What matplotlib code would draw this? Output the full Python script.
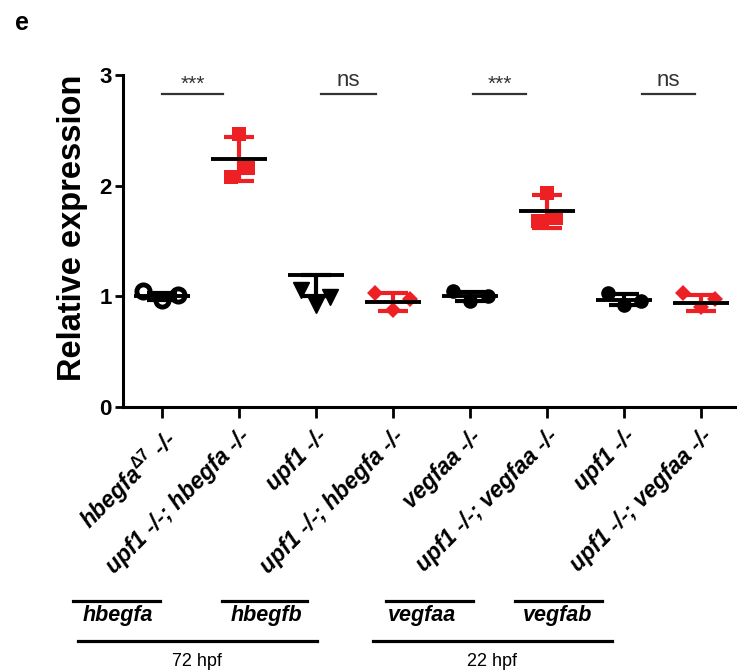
import matplotlib
matplotlib.use("Agg")
import matplotlib.pyplot as plt
from matplotlib.lines import Line2D
import numpy as np

plt.rcParams['font.family'] = ['Liberation Sans', 'DejaVu Sans']
plt.rcParams['mathtext.fontset'] = 'custom'
plt.rcParams['mathtext.rm'] = 'Liberation Sans:bold'
plt.rcParams['mathtext.it'] = 'Liberation Sans:bold:italic'

# ---------------- data ----------------
tick_labels = [
    r"hbegfa$^{\mathrm{\Delta 7}}$ -/-",
    "upf1 -/-; hbegfa -/-",
    "upf1 -/-",
    "upf1 -/-; hbegfa -/-",
    "vegfaa -/-",
    "upf1 -/-; vegfaa -/-",
    "upf1 -/-",
    "upf1 -/-; vegfaa -/-",
]
g0_vals = [1.05, 0.97, 1.01]
g1_vals = [2.47, 2.08, 2.16]
g2_vals = [1.06, 0.99, 0.92]
g3_vals = [1.03, 0.98, 0.88]
g4_vals = [1.05, 0.96, 1.00]
g5_vals = [1.93, 1.68, 1.71]
g6_vals = [1.03, 0.92, 0.96]
g7_vals = [1.03, 0.90, 0.98]
group_vals = [g0_vals, g1_vals, g2_vals, g3_vals, g4_vals, g5_vals, g6_vals, g7_vals]

centre_vals = [1.00, 2.24, 1.19, 0.95, 1.00, 1.77, 0.97, 0.94]
err_low = [0.03, 0.20, 0.19, 0.08, 0.04, 0.15, 0.05, 0.07]
err_high = [0.03, 0.20, 0.00, 0.08, 0.04, 0.15, 0.05, 0.07]

sig_pairs = [(0.0, 0.79), (2.07, 2.78), (4.04, 4.73), (6.23, 6.93)]
sig_labels = ["***", "ns", "***", "ns"]
sig_level = 2.83

# ---------------- style ----------------
RED = '#ED2024'
jitter = [
    [-0.25, 0.0, 0.21],
    [0.0, -0.11, 0.12],
    [-0.20, 0.18, 0.0],
    [-0.23, 0.22, 0.0],
    [-0.22, 0.0, 0.23],
    [0.0, -0.11, 0.12],
    [-0.21, 0.0, 0.22],
    [-0.23, 0.0, 0.18],
]
styles = [
    dict(marker='o', color='black', ms=9.5, mfc='white', mew=3.5),
    dict(marker='s', color=RED, ms=10, mfc=RED, mew=0),
    dict(marker='v', color='black', ms=12, mfc='black', mew=1),
    dict(marker='D', color=RED, ms=8.5, mfc=RED, mew=0),
    dict(marker='o', color='black', ms=9.5, mfc='black', mew=1),
    dict(marker='s', color=RED, ms=10, mfc=RED, mew=0),
    dict(marker='o', color='black', ms=9.5, mfc='black', mew=1),
    dict(marker='D', color=RED, ms=8.5, mfc=RED, mew=0),
]

fig = plt.figure(figsize=(7.37, 6.71), dpi=100)
ax = fig.add_axes([0.167, 0.3934, 0.833, 0.4948])

for i, vals in enumerate(group_vals):
    st = styles[i]
    xs = [i + j for j in jitter[i]]
    ax.plot(xs, vals, linestyle='none', marker=st['marker'], ms=st['ms'],
            mfc=st['mfc'], mec=st['color'], mew=st['mew'], zorder=3,
            clip_on=False)
    ax.errorbar([i], [centre_vals[i]], yerr=[[err_low[i]], [err_high[i]]],
                fmt='none', ecolor=st['color'], elinewidth=3, capsize=11,
                capthick=3, zorder=4)
    ax.hlines(centre_vals[i], i - 0.36, i + 0.36, color='black', lw=2.8,
              zorder=5)

for (a, b), lab in zip(sig_pairs, sig_labels):
    ax.plot([a, b], [sig_level, sig_level], color='#333333', lw=1.6,
            clip_on=False)
    if lab == "ns":
        ax.text((a + b) / 2, sig_level + 0.03, lab, ha='center', va='bottom',
                fontsize=16, color='#333333')
    else:
        ax.text((a + b) / 2, sig_level + 0.0, lab, ha='center', va='bottom',
                fontsize=15, color='#333333')

ax.set_xlim(-0.506, 7.47)
ax.set_ylim(0, 3)
ax.set_yticks([0, 1, 2, 3])
ax.set_yticklabels(['0', '1', '2', '3'], fontsize=16, fontweight='bold')
ax.set_xticks(range(len(tick_labels)))
ax.set_xticklabels(tick_labels, rotation=45, ha='right',
                   rotation_mode='anchor', fontsize=16.5, fontweight='bold',
                   fontstyle='italic')
ax.tick_params(axis='y', length=6, width=2, pad=2)
ax.tick_params(axis='x', length=8, width=2, pad=5)
for s in ['top', 'right']:
    ax.spines[s].set_visible(False)
for s in ['left', 'bottom']:
    ax.spines[s].set_linewidth(2.2)

fig.text(0.098, 0.66, "Relative expression", rotation=90, ha='center',
         va='center', fontsize=23.5, fontweight='bold')
fig.text(0.02, 0.966, "e", ha='left', va='center', fontsize=18,
         fontweight='bold')

# bottom annotations
def hline_fig(x0, x1, y):
    fig.add_artist(Line2D([x0 / 737, x1 / 737], [1 - y / 671, 1 - y / 671],
                          color='black', lw=2.3))

hline_fig(73, 160, 601)
hline_fig(222, 307, 601)
hline_fig(386, 473, 601)
hline_fig(515, 602, 601)
hline_fig(78, 317, 641)
hline_fig(373, 612, 641)

for name, xl in [("hbegfa", 83), ("hbegfb", 231), ("vegfaa", 388), ("vegfab", 523)]:
    fig.text(xl / 737, 1 - 615 / 671, name, ha='left', va='center',
             fontsize=15.5, fontweight='bold', fontstyle='italic')
fig.text(197 / 737, 1 - 661 / 671, "72 hpf", ha='center', va='center',
         fontsize=13)
fig.text(492 / 737, 1 - 661 / 671, "22 hpf", ha='center', va='center',
         fontsize=13)

fig.savefig("out.png", dpi=100)
